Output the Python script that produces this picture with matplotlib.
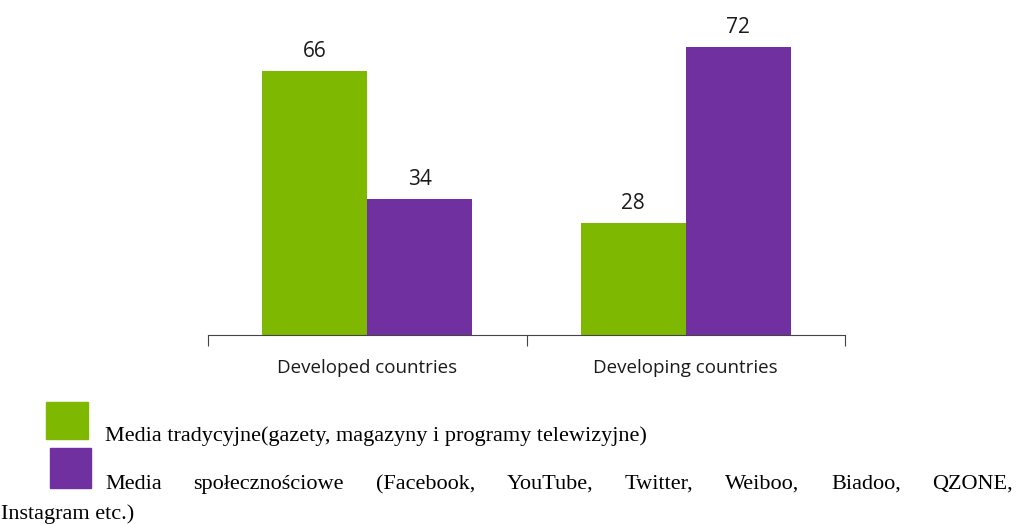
import matplotlib
matplotlib.use('Agg')
from matplotlib import pyplot as plt
from matplotlib.patches import Rectangle
import numpy as np

# shares (%) by country group
categories = ['Developed countries', 'Developing countries']
traditional = [66, 28]
social = [34, 72]

legend_traditional = 'Media tradycyjne(gazety, magazyny i programy telewizyjne)'
legend_social = ('Media społecznościowe (Facebook, YouTube, Twitter, Weiboo, '
                 'Biadoo, QZONE,')
legend_social_cont = 'Instagram etc.)'

green = '#7FB800'
purple = '#7030A0'

W, H = 1016, 524
fig = plt.figure(figsize=(W / 100, H / 100), dpi=100)
ax = fig.add_axes([208 / W, 1 - 335 / H, 637 / W, 320 / H])

x = np.arange(len(categories))
bw = 0.33
b1 = ax.bar(x - bw / 2, traditional, bw, color=green)
b2 = ax.bar(x + bw / 2, social, bw, color=purple)

for bars, vals in ((b1, traditional), (b2, social)):
    for b, v in zip(bars, vals):
        ax.text(b.get_x() + b.get_width() / 2, v + 3.5, str(v),
                ha='center', va='baseline', fontsize=15, family='Open Sans',
                color='#1a1a1a')

ax.set_xlim(-0.5, 1.5)
ax.set_ylim(0, 80)
for s in ['top', 'right', 'left']:
    ax.spines[s].set_visible(False)
ax.spines['bottom'].set_color('#444444')
ax.set_yticks([])
ax.set_xticks([-0.5, 0.5, 1.5])
ax.set_xticklabels([])
ax.tick_params(axis='x', length=8, color='#444444', direction='out')
for xi, lab in zip(x, categories):
    ax.text(xi, -9.5, lab, ha='center', va='baseline', fontsize=13.5,
            family='Open Sans', color='#1a1a1a')

# legend (drawn manually to match the document layout)
fig.patches.append(Rectangle((46 / W, 1 - 439 / H), 42 / W, 37 / H,
                             transform=fig.transFigure, color=green))
fig.patches.append(Rectangle((50 / W, 1 - 488 / H), 41 / W, 40 / H,
                             transform=fig.transFigure, color=purple))

serif = 'Liberation Serif'
fs = 16
fig.text(105 / W, 1 - 441 / H, legend_traditional, fontsize=fs, family=serif,
         va='baseline', ha='left')

# justified second line
words = legend_social.split(' ')
fig.canvas.draw()
r = fig.canvas.get_renderer()
tmp = [fig.text(0, 0, w, fontsize=fs, family=serif) for w in words]
widths = [t.get_window_extent(r).width for t in tmp]
for t in tmp:
    t.remove()
x0, x1 = 105, 1013
gap = (x1 - x0 - sum(widths)) / (len(words) - 1)
xp = x0
for w, wd in zip(words, widths):
    fig.text(xp / W, 1 - 489 / H, w, fontsize=fs, family=serif,
             va='baseline', ha='left')
    xp += wd + gap

fig.text(1 / W, 1 - 519 / H, legend_social_cont, fontsize=fs, family=serif,
         va='baseline', ha='left')

fig.savefig('out.png', dpi=100)
